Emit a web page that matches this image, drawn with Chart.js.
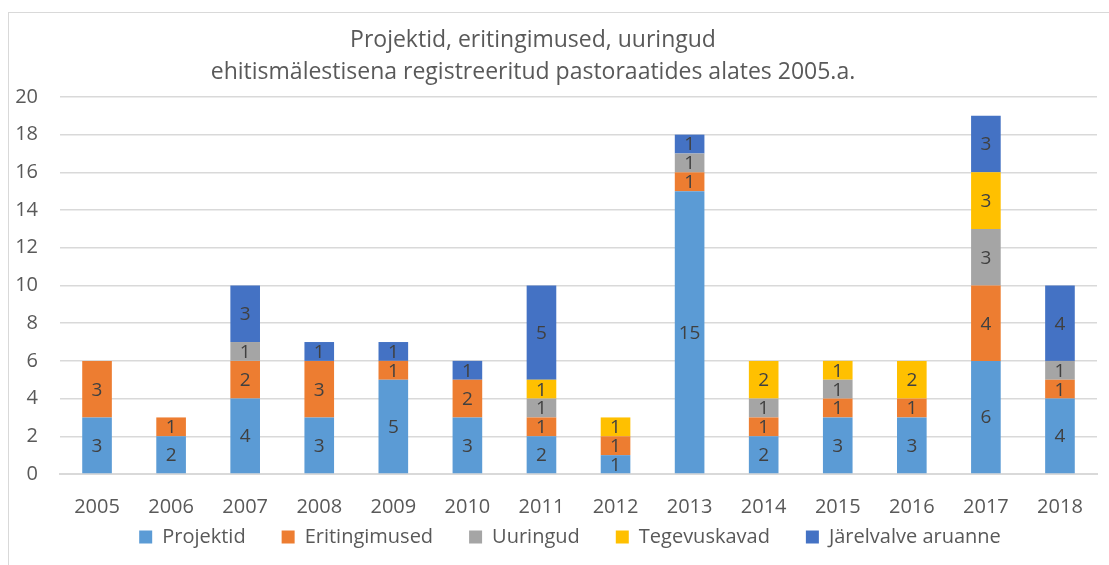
<!DOCTYPE html>
<html><head><meta charset="utf-8">
<script src="https://cdn.jsdelivr.net/npm/chart.js@4/dist/chart.umd.min.js"></script>
<style>
html,body{margin:0;padding:0;background:#fff;}
#wrap{position:absolute;left:8px;top:12px;width:1120px;height:570px;border:1px solid #d9d9d9;box-sizing:border-box;}
#c{position:absolute;left:0;top:0;}
</style></head><body>
<div id="wrap"></div>
<canvas id="c" width="1109" height="565"></canvas>
<script>
const categories = ['2005','2006','2007','2008','2009','2010','2011','2012','2013','2014','2015','2016','2017','2018'];
const projektid     = [3,2,4,3,5,3,2,1,15,2,3,3,6,4];
const eritingimused = [3,1,2,3,1,2,1,1,1,1,1,1,4,1];
const uuringud      = [0,0,1,0,0,0,1,0,1,1,1,0,3,1];
const tegevuskavad  = [0,0,0,0,0,0,1,1,0,2,1,2,3,0];
const jarelvalve    = [0,0,3,1,1,1,5,0,1,0,0,0,3,4];
const seriesNames = ['Projektid','Eritingimused','Uuringud','Tegevuskavad','Järelvalve aruanne'];
const seriesColors = ['#5b9bd5','#ed7d31','#a5a5a5','#ffc000','#4472c4'];
const titleLines = ['Projektid, eritingimused, uuringud','ehitismälestisena registreeritud pastoraatides alates 2005.a.'];
const yTicks = [0,2,4,6,8,10,12,14,16,18,20];

const FONT = '"Open Sans", sans-serif';
const allSeries = [projektid, eritingimused, uuringud, tegevuskavad, jarelvalve];

const labelPlugin = {
  id:'barLabels',
  afterDatasetsDraw(chart){
    const ctx = chart.ctx;
    ctx.save();
    ctx.fillStyle = '#404040';
    ctx.font = '19px ' + FONT;
    ctx.textAlign = 'center';
    ctx.textBaseline = 'middle';
    chart.data.datasets.forEach((ds,i)=>{
      const meta = chart.getDatasetMeta(i);
      meta.data.forEach((bar,j)=>{
        const v = ds.data[j];
        if(!v) return;
        const y = (bar.y + bar.base)/2;
        ctx.fillText(String(v), bar.x, y+1);
      });
    });
    ctx.restore();
  }
};

// Layout tweaks: compact legend box, shift legend/title placement
const layoutTweak = {
  id:'layoutTweak',
  beforeInit(chart){
    const lg = chart.legend;
    const origFit = lg.fit;
    lg.fit = function(){ origFit.call(this); this.height = 12; };
    const origDraw = lg.draw;
    lg.draw = function(){
      const t=this.top, b=this.bottom, l=this.left, r=this.right;
      this.top = t - 49; this.bottom = chart.height; this.left = l + 14; this.right = r + 14;
      origDraw.call(this);
      this.top = t; this.bottom = b; this.left = l; this.right = r;
    };
    const tb = chart.titleBlock;
    const origTDraw = tb.draw;
    tb.draw = function(){
      const l=this.left, r=this.right;
      this.left = l - 23; this.right = r - 23;
      origTDraw.call(this);
      this.left = l; this.right = r;
    };
  }
};

new Chart(document.getElementById('c'), {
  type:'bar',
  data:{
    labels: categories,
    datasets: allSeries.map((d,i)=>({
      label: seriesNames[i],
      data: d,
      backgroundColor: seriesColors[i],
      borderWidth: 0,
      barPercentage: 0.8,
      categoryPercentage: 0.5
    }))
  },
  options:{
    responsive:false,
    animation:false,
    devicePixelRatio:1,
    layout:{padding:{left:15,right:12,top:14,bottom:13}},
    plugins:{
      title:{display:true,text:titleLines,color:'#595959',font:{family:FONT,size:23,weight:'normal',lineHeight:1.39},padding:{top:10,bottom:9}},
      legend:{position:'bottom',labels:{color:'#595959',font:{family:FONT,size:20},boxWidth:13,boxHeight:13,padding:36}},
      tooltip:{enabled:false}
    },
    scales:{
      x:{stacked:true,
         grid:{display:false, drawTicks:false},
         border:{display:true,color:'#d9d9d9',width:2},
         ticks:{color:'#595959',font:{family:FONT,size:20},padding:21}},
      y:{stacked:true,min:0,max:20,
         afterBuildTicks(axis){axis.ticks = yTicks.map(v=>({value:v}));},
         afterFit(axis){ axis.width = 45; },
         grid:{color:'#d9d9d9',lineWidth:1.5,drawTicks:false},
         border:{display:false},
         ticks:{color:'#595959',font:{family:FONT,size:20},padding:22}}
    }
  },
  plugins:[labelPlugin, layoutTweak]
});
</script>
</body></html>
